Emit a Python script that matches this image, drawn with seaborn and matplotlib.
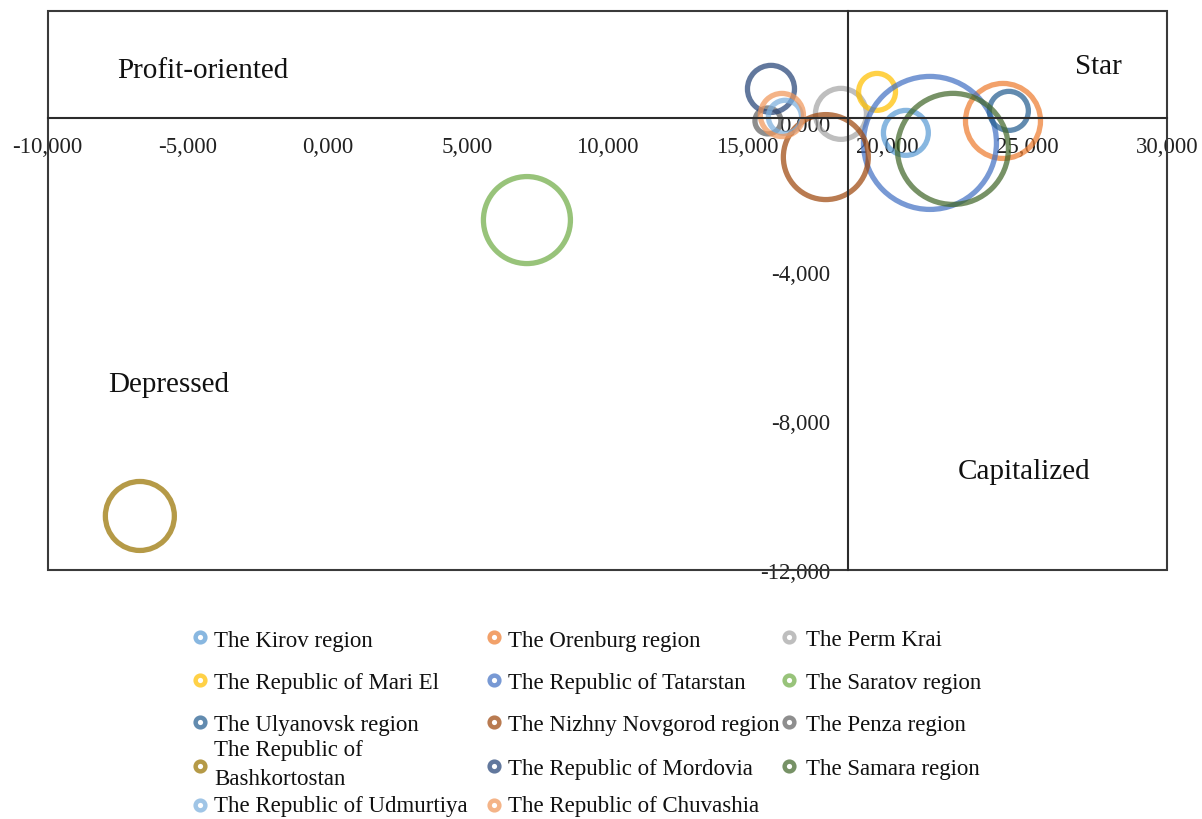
import matplotlib
matplotlib.use("Agg")
import matplotlib.pyplot as plt
import pandas as pd
import seaborn as sns
from matplotlib.lines import Line2D
from matplotlib.patches import Rectangle

# Regions, in legend order (row by row)
regions = [
    "The Kirov region", "The Orenburg region", "The Perm Krai",
    "The Republic of Mari El", "The Republic of Tatarstan", "The Saratov region",
    "The Ulyanovsk region", "The Nizhny Novgorod region", "The Penza region",
    "The Republic of\nBashkortostan", "The Republic of Mordovia", "The Samara region",
    "The Republic of Udmurtiya", "The Republic of Chuvashia",
]
x_values = [20.67, 24.14, 18.35, 19.64, 21.53, 7.13, 24.35, 17.81, 15.74,
            -6.70, 15.85, 22.35, 16.35, 16.24]
y_values = [-0.27, 0.05, 0.24, 0.83, -0.54, -2.61, 0.32, -0.92, 0.05,
            -10.55, 0.91, -0.70, 0.16, 0.21]
weights = [11.4, 31.8, 14.7, 7.7, 100.0, 42.8, 8.6, 40.8, 3.8,
           26.9, 12.5, 69.7, 6.2, 10.5]
colors = ["#5B9BD5", "#ED7D31", "#A5A5A5", "#FFC000", "#4472C4", "#70AD47",
          "#255E91", "#9E480E", "#636363", "#997300", "#264478", "#43682B",
          "#7CAFDD", "#F1975A"]

x_ticks = [-10, -5, 0, 5, 10, 15, 20, 25, 30]
y_ticks = [0, -4, -8, -12]
quadrant_labels = ["Profit-oriented", "Star", "Depressed", "Capitalized"]
quadrant_pos = [(0.139, 0.894), (0.939, 0.901), (0.108, 0.332), (0.872, 0.177)]

x_cross = 18.6   # value where the vertical axis crosses
y_cross = 0.13   # value where the horizontal axis crosses

sns.set_theme(style="white")
plt.rcParams["font.family"] = ["Liberation Serif", "DejaVu Serif"]

W, H = 1202, 820
fig = plt.figure(figsize=(W / 100, H / 100), dpi=100)
ax = fig.add_axes([47.5 / W, 1 - 571 / H, 1119.5 / W, 559 / H])

df = pd.DataFrame({"region": regions, "x": x_values, "y": y_values, "weight": weights})
palette = dict(zip(regions, colors))

# Bubble area proportional to weight; largest bubble ~133 px across
sns.scatterplot(data=df, x="x", y="y", hue="region", palette=palette,
                size="weight", sizes=(0, 9170), size_norm=(0, max(weights)),
                legend=False, alpha=0.72, ax=ax)
bubbles = ax.collections[0]
bubbles.set_edgecolors(bubbles.get_facecolors())
bubbles.set_facecolors("none")
bubbles.set_linewidths(3.8)

ax.set_xlim(-10, 30)
ax.set_ylim(-12, 3)
ax.set_xlabel("")
ax.set_ylabel("")
ax.set_xticks(x_ticks)
ax.set_yticks(y_ticks)
fmt = lambda v, _: f"{v:.3f}".replace(".", ",")
ax.xaxis.set_major_formatter(fmt)
ax.yaxis.set_major_formatter(fmt)
ax.tick_params(axis="x", length=0, pad=13, labelsize=16.5, colors="#222222")
ax.tick_params(axis="y", length=0, pad=13, labelsize=16.5, colors="#222222")

# Axes crossing inside the plot area
for side in ("top", "right"):
    ax.spines[side].set_visible(False)
ax.spines["bottom"].set_position(("data", y_cross))
ax.spines["left"].set_position(("data", x_cross))
for side in ("bottom", "left"):
    ax.spines[side].set_color("#2b2b2b")
    ax.spines[side].set_linewidth(1.5)
    ax.spines[side].set_zorder(4)

# Plot-area frame
ax.add_patch(Rectangle((0, 0), 1, 1, transform=ax.transAxes, fill=False,
                       edgecolor="#3a3a3a", linewidth=1.5, clip_on=False, zorder=4))

for text, (qx, qy) in zip(quadrant_labels, quadrant_pos):
    ax.text(qx, qy, text, transform=ax.transAxes, ha="center", va="center",
            fontsize=21, color="#111111")

# Legend below the plot, three columns filled row by row
marker_x = [200, 494, 789]
text_x = [214, 508, 806]
row_y = [638, 681, 723, 767, 806]
for i, (name, col) in enumerate(zip(regions, colors)):
    r, c = divmod(i, 3)
    fy = 1 - row_y[r] / H
    fig.add_artist(Line2D([marker_x[c] / W], [fy], transform=fig.transFigure,
                          marker="o", markersize=7, markeredgewidth=3.2,
                          markerfacecolor="white", markeredgecolor=col,
                          alpha=0.72, linestyle="none"))
    ty = row_y[r] + (1 if r == 4 else 3) - (5 if "\n" in name else 0)
    fig.text(text_x[c] / W, 1 - ty / H, name, ha="left", va="center", fontsize=16.5,
             color="#111111", linespacing=1.45)

fig.savefig("out.png", dpi=100)
